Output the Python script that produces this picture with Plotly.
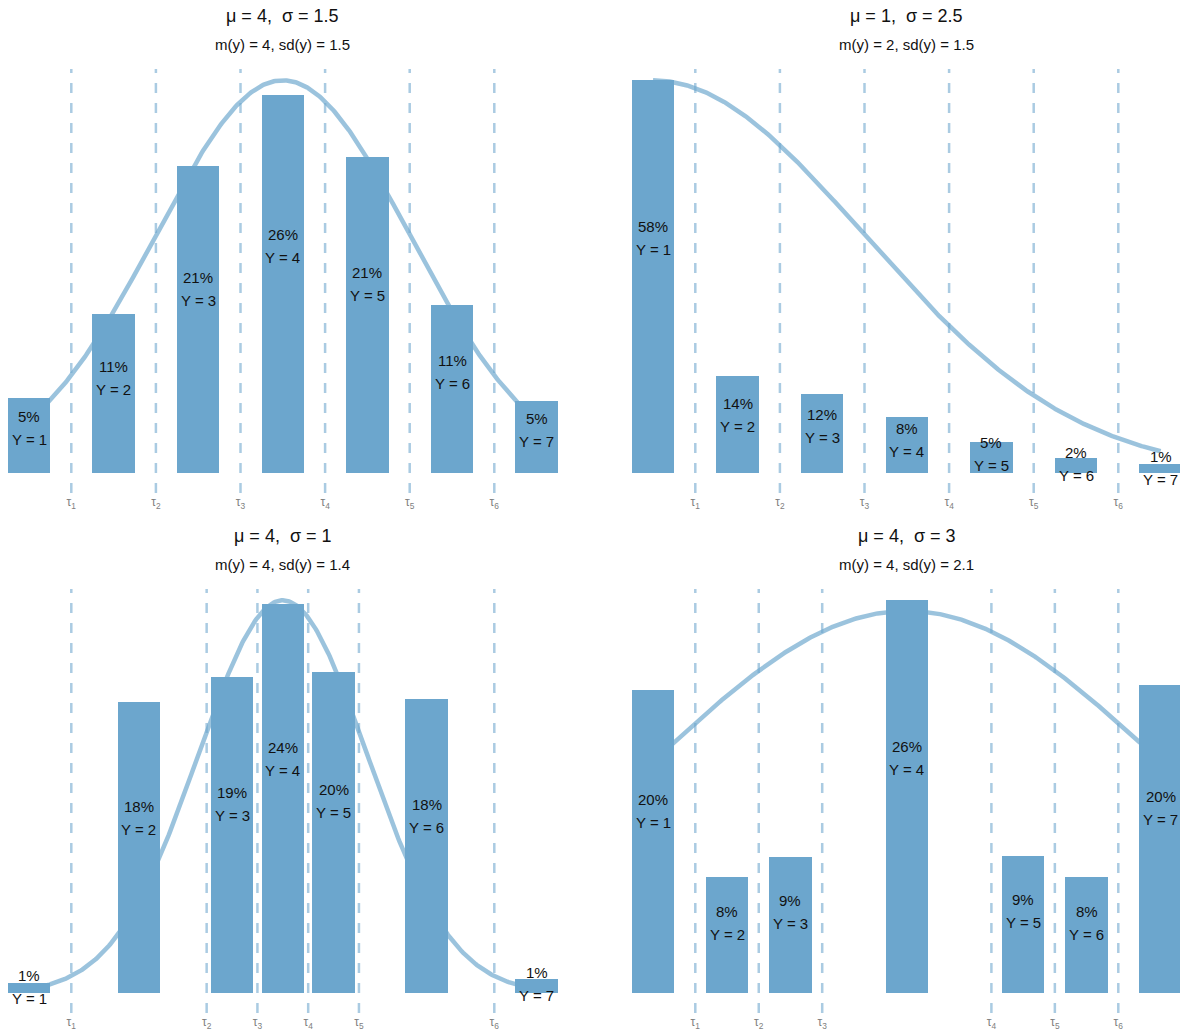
import numpy as np
import plotly.graph_objects as go

# ---- data -------------------------------------------------------------
mu = [4, 1, 4, 4]
sigma = [1.5, 2.5, 1, 3]

thresholds_a = [1.5, 2.5, 3.5, 4.5, 5.5, 6.5]
thresholds_b = [1.5, 2.5, 3.5, 4.5, 5.5, 6.5]
thresholds_c = [1.5, 3.1, 3.7, 4.3, 4.9, 6.5]
thresholds_d = [1.5, 2.25, 3.0, 5.0, 5.75, 6.5]

probs_a = [0.051, 0.108, 0.208, 0.256, 0.214, 0.114, 0.049]
probs_b = [0.576, 0.143, 0.116, 0.082, 0.046, 0.023, 0.014]
probs_c = [0.006, 0.178, 0.193, 0.238, 0.196, 0.180, 0.009]
probs_d = [0.201, 0.077, 0.090, 0.260, 0.091, 0.077, 0.204]

# height of the latent density curve, in the same units as the bars
curve_peak = [0.266, 0.576, 0.240, 0.253]

subtitles = [
    "m(y) = 4, sd(y) = 1.5",
    "m(y) = 2, sd(y) = 1.5",
    "m(y) = 4, sd(y) = 1.4",
    "m(y) = 4, sd(y) = 2.1",
]
categories = [1, 2, 3, 4, 5, 6, 7]
tau_labels = [f"τ<sub>{i}</sub>" for i in range(1, 7)]

thresholds = [thresholds_a, thresholds_b, thresholds_c, thresholds_d]
probs = [probs_a, probs_b, probs_c, probs_d]

# ---- styling ------------------------------------------------------------
W, H = 1180, 1031
FONT = "Liberation Sans, Arial, Helvetica, sans-serif"
BAR = "#6ca6cd"
CURVE = "rgba(108,166,205,0.68)"
DASH = "rgba(108,166,205,0.58)"

# panel placement in pixels
x_dom = [(0, 0.5), (0.5, 1.0), (0, 0.5), (0.5, 1.0)]
top_px = [69, 69, 589, 589]
bot_px = [493, 493, 1013, 1013]
title_px = [16, 16, 536, 536]
sub_px = [44, 44, 564, 564]
tau1_px = [71.3, 695.3, 71.3, 695.3]
unit_px = 84.6


def bar_centres(t):
    """Category positions on the latent scale: midpoints between cut points,
    with the two outer categories half a unit beyond the outer thresholds."""
    mids = [(t[i] + t[i + 1]) / 2 for i in range(len(t) - 1)]
    return [t[0] - 0.5] + mids + [t[-1] + 0.5]


fig = go.Figure()
annotations = []
shapes = []
layout = {}

for k in range(4):
    n = k + 1
    xa = "x" if n == 1 else f"x{n}"
    ya = "y" if n == 1 else f"y{n}"
    yb = f"y{n + 4}"

    t = thresholds[k]
    p = probs[k]
    xc = bar_centres(t)

    # x range so that one latent unit spans unit_px pixels
    left_px = x_dom[k][0] * W
    right_px = x_dom[k][1] * W
    xr = [t[0] - (tau1_px[k] - left_px) / unit_px,
          t[0] + (right_px - tau1_px[k]) / unit_px]

    top = max(max(p), curve_peak[k])
    yr = [-0.0501 * top, 1.0288 * top]

    dom_y = [1 - bot_px[k] / H, 1 - top_px[k] / H]

    layout[f"xaxis{'' if n == 1 else n}"] = dict(
        domain=list(x_dom[k]), range=xr, anchor=ya,
        showgrid=False, zeroline=False, showline=False, ticks="",
        tickvals=t, ticktext=tau_labels,
        tickfont=dict(family=FONT, size=12, color="#808080"),
        fixedrange=True,
    )
    layout[f"yaxis{'' if n == 1 else n}"] = dict(
        domain=dom_y, range=yr, anchor=xa, visible=False, fixedrange=True,
    )
    layout[f"yaxis{n + 4}"] = dict(
        overlaying=ya, range=yr, anchor=xa, visible=False, fixedrange=True,
    )

    # latent normal density
    xs = np.linspace(1, 7, 401)
    ys = curve_peak[k] * np.exp(-0.5 * ((xs - mu[k]) / sigma[k]) ** 2)
    fig.add_trace(go.Scatter(
        x=xs, y=ys, mode="lines", xaxis=xa, yaxis=ya,
        line=dict(color=CURVE, width=4.5), hoverinfo="skip", showlegend=False,
    ))

    # category proportions, drawn on an overlaid axis so they sit above the curve
    fig.add_trace(go.Bar(
        x=xc, y=p, width=0.5, xaxis=xa, yaxis=yb,
        marker=dict(color=BAR, line=dict(width=0)),
        hoverinfo="skip", showlegend=False,
    ))

    # thresholds
    for tv in t:
        shapes.append(dict(
            type="line", xref=xa, yref=f"{ya} domain",
            x0=tv, x1=tv, y0=0, y1=1, layer="below",
            line=dict(color=DASH, width=2.5, dash="10px,10px"),
        ))

    # bar labels
    for xi, pi, c in zip(xc, p, categories):
        annotations.append(dict(
            x=xi, y=0.6 * pi, xref=xa, yref=ya, showarrow=False,
            text=f"{round(pi * 100)}%", yshift=11.5,
            font=dict(family=FONT, size=15, color="#111111"),
        ))
        annotations.append(dict(
            x=xi, y=0.6 * pi, xref=xa, yref=ya, showarrow=False,
            text=f"Y = {c}", yshift=-11.5,
            font=dict(family=FONT, size=15, color="#111111"),
        ))

    # panel titles
    annotations.append(dict(
        x=4, y=1 - title_px[k] / H, xref=xa, yref="paper", yanchor="middle",
        showarrow=False,
        text=f"μ = {mu[k]},\u00a0\u00a0σ = {sigma[k]}",
        font=dict(family=FONT, size=18, color="#111111"),
    ))
    annotations.append(dict(
        x=4, y=1 - sub_px[k] / H, xref=xa, yref="paper", yanchor="middle",
        showarrow=False, text=subtitles[k],
        font=dict(family=FONT, size=15, color="#111111"),
    ))

fig.update_layout(
    width=W, height=H,
    margin=dict(l=0, r=0, t=0, b=0),
    paper_bgcolor="white", plot_bgcolor="white",
    bargap=0, showlegend=False,
    annotations=annotations, shapes=shapes,
    **layout,
)

fig.write_html("out.html", config={"displayModeBar": False})
